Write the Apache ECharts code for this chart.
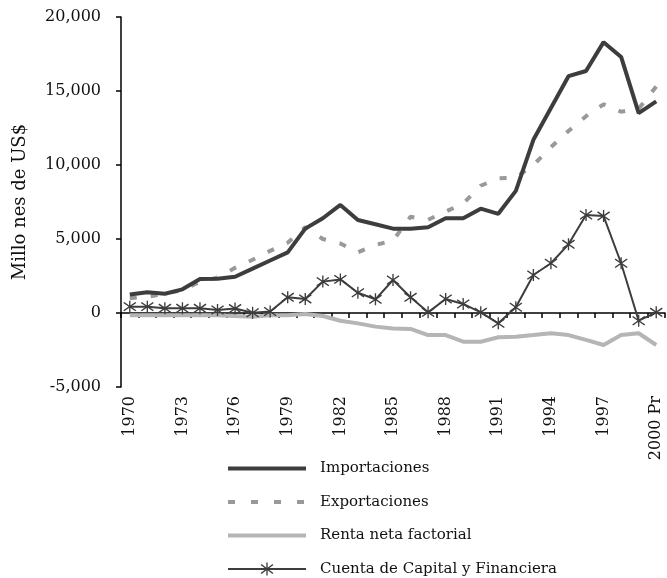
<!DOCTYPE html>
<html>
<head>
<meta charset="utf-8">
<script src="https://cdn.jsdelivr.net/npm/echarts@6/dist/echarts.min.js"></script>
<style>
html,body{margin:0;padding:0;background:#fff;}
#chart{width:667px;height:578px;}
</style>
</head>
<body>
<div id="chart"></div>
<script>
var years = ['1970','1971','1972','1973','1974','1975','1976','1977','1978','1979',
  '1980','1981','1982','1983','1984','1985','1986','1987','1988','1989',
  '1990','1991','1992','1993','1994','1995','1996','1997','1998','1999','2000 Pr'];

var importaciones = [1250, 1400, 1300, 1600, 2300, 2320, 2450, 3000, 3550, 4100,
  5700, 6400, 7300, 6280, 6000, 5700, 5700, 5800, 6400, 6400,
  7050, 6700, 8250, 11700, 13850, 16000, 16350, 18300, 17300, 13500, 14300];

var exportaciones = [1000, 1100, 1300, 1550, 2100, 2400, 3050, 3600, 4200, 4750,
  5800, 5000, 4700, 4100, 4600, 4900, 6500, 6300, 6850, 7400,
  8600, 9100, 9150, 10000, 11200, 12300, 13300, 14100, 13600, 13800, 15300];

var rentaNeta = [-150, -150, -150, -150, -150, -150, -200, -250, -150, -150,
  -70, -200, -520, -700, -920, -1040, -1080, -1490, -1490, -1940,
  -1940, -1640, -1600, -1490, -1370, -1490, -1820, -2160, -1490, -1370, -2160];

var cuentaCapital = [430, 430, 315, 315, 315, 200, 300, 20, 100, 1060,
  950, 2120, 2270, 1370, 925, 2230, 1060, 45, 945, 610,
  45, -700, 385, 2570, 3360, 4640, 6620, 6550, 3360, -520, 45];

var seriesNames = ['Importaciones', 'Exportaciones', 'Renta neta factorial', 'Cuenta de Capital y Financiera'];

var FONT = 'DejaVu Serif';
var asterisk = 'path://M9,0L11,0L11,20L9,20Z' +
  'M1.675,2.132L19.675,16.132L18.325,17.868L0.325,3.868Z' +
  'M0.325,16.132L18.325,2.132L19.675,3.868L1.675,17.868Z';

var chart = echarts.init(document.getElementById('chart'));
chart.setOption({
  animation: false,
  backgroundColor: '#ffffff',
  grid: {left: 121, right: 2, top: 17, bottom: 191, containLabel: false},
  legend: {
    orient: 'vertical',
    left: 226,
    top: 461,
    height: 130,
    padding: 0,
    itemWidth: 78,
    itemHeight: 16,
    itemGap: 18.5,
    textStyle: {fontFamily: FONT, fontSize: 15, color: '#111', padding: [0, 0, 0, 9]},
    data: [
      {name: seriesNames[0], itemStyle: {opacity: 0}, lineStyle: {width: 4, color: '#3d3d3d'}},
      {name: seriesNames[1], itemStyle: {opacity: 0}, lineStyle: {width: 4, color: '#999999', type: [7, 16]}},
      {name: seriesNames[2], itemStyle: {opacity: 0}, lineStyle: {width: 4, color: '#b5b5b5'}},
      {name: seriesNames[3], lineStyle: {width: 2, color: '#3d3d3d'}}
    ]
  },
  xAxis: {
    type: 'category',
    data: years,
    boundaryGap: true,
    axisLine: {onZero: true, lineStyle: {color: '#000', width: 1.5}},
    axisTick: {show: true, interval: 0, length: 5, lineStyle: {color: '#000', width: 1.5}},
    axisLabel: {interval: 2, rotate: 90, margin: 9, fontFamily: FONT, fontSize: 16, color: '#111'},
    splitLine: {show: false}
  },
  yAxis: {
    type: 'value',
    min: -5000,
    max: 20000,
    interval: 5000,
    name: 'Millo nes de US$',
    nameLocation: 'middle',
    nameGap: 92,
    nameRotate: 90,
    nameTextStyle: {fontFamily: FONT, fontSize: 18, color: '#111'},
    axisLine: {show: true, lineStyle: {color: '#000', width: 1.5}},
    axisTick: {show: true, length: 5, lineStyle: {color: '#000', width: 1.5}},
    axisLabel: {margin: 20, fontFamily: FONT, fontSize: 16, color: '#111'},
    splitLine: {show: false}
  },
  series: [
    {
      name: seriesNames[0], type: 'line', data: importaciones,
      symbol: 'none', lineStyle: {color: '#3d3d3d', width: 4}, itemStyle: {color: '#3d3d3d'}, z: 4
    },
    {
      name: seriesNames[1], type: 'line', data: exportaciones,
      symbol: 'none', lineStyle: {color: '#999999', width: 4, type: [7, 14]}, itemStyle: {color: '#999999'}, z: 3
    },
    {
      name: seriesNames[2], type: 'line', data: rentaNeta,
      symbol: 'none', lineStyle: {color: '#b5b5b5', width: 4}, itemStyle: {color: '#b5b5b5'}, z: 2
    },
    {
      name: seriesNames[3], type: 'line', data: cuentaCapital,
      symbol: asterisk, symbolSize: [13, 12], showAllSymbol: true,
      lineStyle: {color: '#3d3d3d', width: 2}, itemStyle: {color: '#3d3d3d'}, z: 5
    }
  ]
});
</script>
</body>
</html>
